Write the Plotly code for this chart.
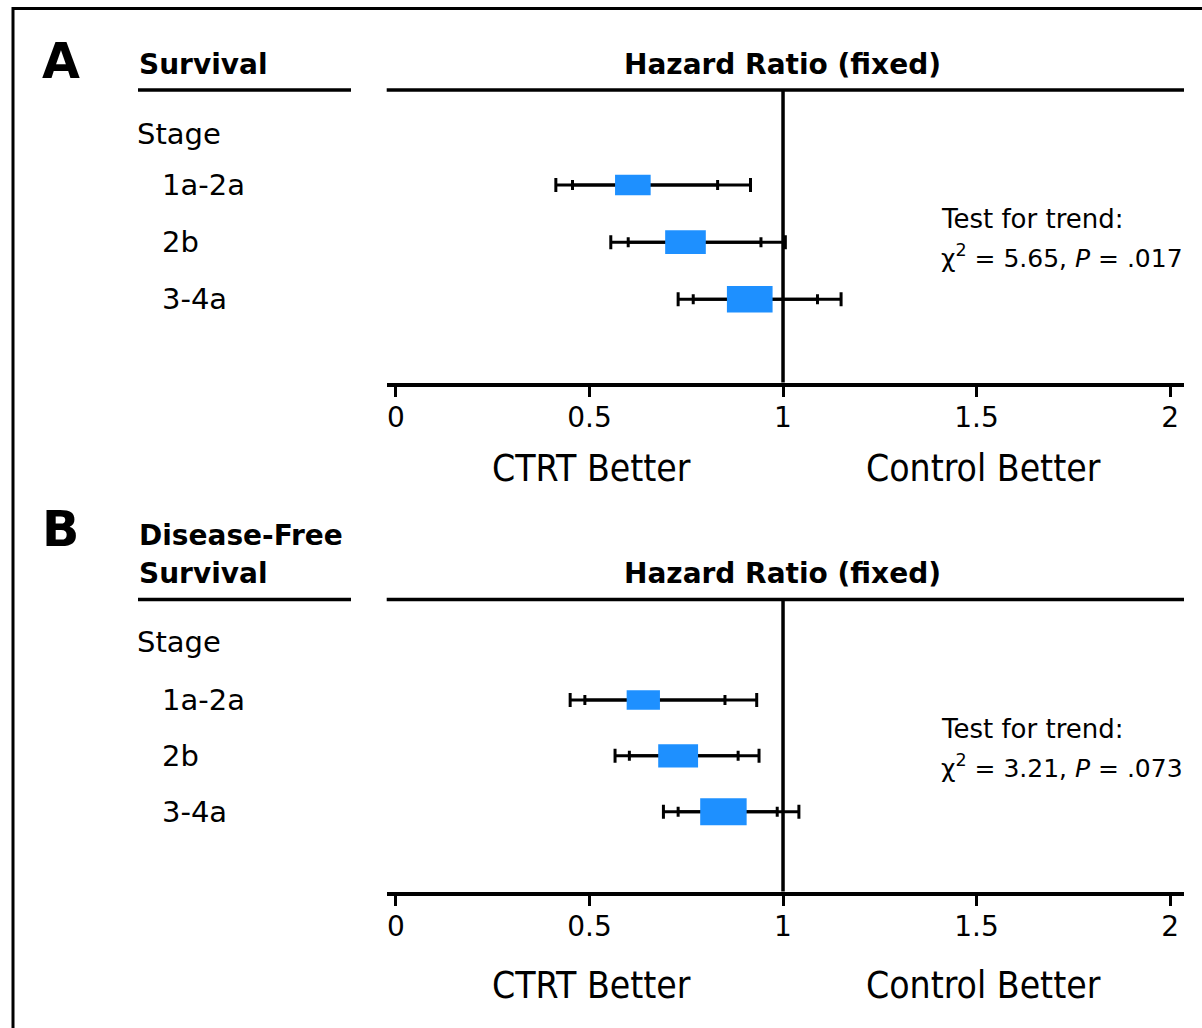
import plotly.graph_objects as go

W, H = 1202, 1028

# ---------------- data ----------------
stage_labels = ["1a-2a", "2b", "3-4a"]
tick_vals = [0, 0.5, 1, 1.5, 2]
tick_text = ["0", "0.5", "1", "1.5", "2"]

# Panel A: overall survival (hazard ratio, 95% and 99% CI, box size = weight)
os_hr = [0.612, 0.748, 0.914]
os_lo95 = [0.456, 0.600, 0.768]
os_hi95 = [0.831, 0.943, 1.089]
os_lo99 = [0.413, 0.555, 0.729]
os_hi99 = [0.916, 1.006, 1.150]
os_weight = [0.092, 0.105, 0.118]
os_trend = "χ<sup>2</sup> = 5.65, <i>P</i> = .017"

# Panel B: disease-free survival
dfs_hr = [0.639, 0.729, 0.846]
dfs_lo95 = [0.488, 0.603, 0.729]
dfs_hi95 = [0.850, 0.884, 0.985]
dfs_lo99 = [0.450, 0.566, 0.691]
dfs_hi99 = [0.932, 0.938, 1.041]
dfs_weight = [0.086, 0.103, 0.120]
dfs_trend = "χ<sup>2</sup> = 3.21, <i>P</i> = .073"

# ---------------- style ----------------
BLUE = "#1e90ff"
REG = "DejaVu Sans, Verdana, Arial, sans-serif"
COND = "DejaVu Sans Condensed, Liberation Sans Narrow, Arial Narrow, DejaVu Sans, sans-serif"
BOX_ASPECT = 0.58  # box height / box width in pixels

X_LEFT_PX, X_RIGHT_PX = 386.7, 1184.0
X_RANGE = [-0.024, 2.036]
px_per_x = (X_RIGHT_PX - X_LEFT_PX) / (X_RANGE[1] - X_RANGE[0])


def px(xp):
    return xp / W


def py(yp):
    return 1 - yp / H


fig = go.Figure()
shapes = []
annotations = []

panels = [
    dict(letter="A", title=["Survival"], hr=os_hr, lo95=os_lo95, hi95=os_hi95,
         lo99=os_lo99, hi99=os_hi99, w=os_weight, trend=os_trend,
         top=90.0, bottom=382.5, row1=185.0, row_gap=57.15,
         letter_y=61, title_y=[64.5], stage_y=134.5, trend_y=(219, 256),
         better_y=469, xa="x", ya="y"),
    dict(letter="B", title=["Disease-Free", "Survival"], hr=dfs_hr, lo95=dfs_lo95,
         hi95=dfs_hi95, lo99=dfs_lo99, hi99=dfs_hi99, w=dfs_weight, trend=dfs_trend,
         top=599.5, bottom=891.5, row1=700.0, row_gap=55.85,
         letter_y=529.5, title_y=[535, 573.5], stage_y=641.5, trend_y=(729, 766),
         better_y=985, xa="x2", ya="y2"),
]

layout_axes = {}
for i, p in enumerate(panels):
    rows = [1, 2, 3]
    y_top = 1 + (p["top"] - p["row1"]) / p["row_gap"]
    y_bot = 1 + (p["bottom"] - p["row1"]) / p["row_gap"]
    px_per_y = p["row_gap"]
    xa, ya = p["xa"], p["ya"]
    xname = "xaxis" if xa == "x" else "xaxis2"
    yname = "yaxis" if ya == "y" else "yaxis2"
    layout_axes[xname] = dict(
        domain=[px(X_LEFT_PX), px(X_RIGHT_PX)], range=X_RANGE, anchor=ya,
        showline=True, linewidth=3.5, linecolor="black", ticks="outside",
        ticklen=11, tickwidth=3, tickcolor="black", tickvals=tick_vals,
        ticktext=tick_text, tickfont=dict(family=REG, size=28, color="black"),
        ticklabelstandoff=-4,
        showgrid=False, zeroline=False, fixedrange=True,
    )
    layout_axes[yname] = dict(
        domain=[py(p["bottom"]), py(p["top"])], range=[y_bot, y_top], anchor=xa,
        visible=False, showgrid=False, zeroline=False, fixedrange=True,
    )

    # 99% CI (outer caps)
    fig.add_trace(go.Scatter(
        x=p["hr"], y=rows, mode="markers", xaxis=xa, yaxis=ya,
        marker=dict(size=1, color="rgba(0,0,0,0)"), showlegend=False, hoverinfo="skip",
        error_x=dict(type="data", symmetric=False,
                     array=[h - m for h, m in zip(p["hi99"], p["hr"])],
                     arrayminus=[m - l for l, m in zip(p["lo99"], p["hr"])],
                     color="black", thickness=3, width=7),
    ))
    # 95% CI (inner ticks)
    fig.add_trace(go.Scatter(
        x=p["hr"], y=rows, mode="markers", xaxis=xa, yaxis=ya,
        marker=dict(size=1, color="rgba(0,0,0,0)"), showlegend=False, hoverinfo="skip",
        error_x=dict(type="data", symmetric=False,
                     array=[h - m for h, m in zip(p["hi95"], p["hr"])],
                     arrayminus=[m - l for l, m in zip(p["lo95"], p["hr"])],
                     color="black", thickness=3, width=5),
    ))
    # boxes
    for r, m, w in zip(rows, p["hr"], p["w"]):
        h = w * px_per_x * BOX_ASPECT / px_per_y
        fig.add_trace(go.Scatter(
            x=[m - w / 2, m + w / 2, m + w / 2, m - w / 2, m - w / 2],
            y=[r - h / 2, r - h / 2, r + h / 2, r + h / 2, r - h / 2],
            mode="lines", fill="toself", fillcolor=BLUE, line=dict(width=0, color=BLUE),
            xaxis=xa, yaxis=ya, showlegend=False, hoverinfo="skip",
        ))

    # line of no effect
    shapes.append(dict(type="line", xref=xa, yref=f"{ya} domain", x0=1, x1=1, y0=0, y1=1,
                       line=dict(color="black", width=3.5)))
    # header rules
    shapes.append(dict(type="line", xref=f"{xa} domain", yref=f"{ya} domain", x0=0, x1=1,
                       y0=1, y1=1, line=dict(color="black", width=3.5)))
    shapes.append(dict(type="line", xref="paper", yref=f"{ya} domain", x0=px(138), x1=px(351),
                       y0=1, y1=1, line=dict(color="black", width=3.5)))

    # texts
    annotations.append(dict(text=f"<b>{p['letter']}</b>", x=px(61), y=py(p["letter_y"]),
                            xanchor="center", yanchor="middle",
                            font=dict(family=REG, size=49, color="black")))
    for t, ty in zip(p["title"], p["title_y"]):
        annotations.append(dict(text=f"<b>{t}</b>", x=px(137), y=py(ty), xanchor="left",
                                yanchor="middle", font=dict(family=REG, size=28, color="black")))
    annotations.append(dict(text="<b>Hazard Ratio (fixed)</b>", x=px(782.5),
                            y=py(p["title_y"][-1]), xanchor="center", yanchor="middle",
                            font=dict(family=REG, size=28, color="black")))
    annotations.append(dict(text="Stage", x=px(135), y=py(p["stage_y"]), xanchor="left",
                            yanchor="middle", font=dict(family=REG, size=29, color="black")))
    for r, lab in zip(rows, stage_labels):
        annotations.append(dict(text=lab, x=px(160), xref="paper", y=r, yref=ya,
                                xanchor="left", yanchor="middle",
                                font=dict(family=REG, size=29, color="black")))
    annotations.append(dict(text="Test for trend:", x=px(939), y=py(p["trend_y"][0]),
                            xanchor="left", yanchor="middle",
                            font=dict(family=REG, size=26, color="black")))
    annotations.append(dict(text=p["trend"], x=px(939), y=py(p["trend_y"][1]),
                            xanchor="left", yanchor="middle",
                            font=dict(family=REG, size=25, color="black")))
    annotations.append(dict(text="CTRT Better", x=px(591), y=py(p["better_y"]),
                            xanchor="center", yanchor="middle",
                            font=dict(family=COND, size=37, color="black")))
    annotations.append(dict(text="Control Better", x=px(983), y=py(p["better_y"]),
                            xanchor="center", yanchor="middle",
                            font=dict(family=COND, size=37, color="black")))

for a in annotations:
    a.setdefault("xref", "paper")
    a.setdefault("yref", "paper")
    a["showarrow"] = False

# outer frame (only left and top edges are inside the image)
shapes.append(dict(type="rect", xref="paper", yref="paper", x0=px(13), x1=1.05,
                   y0=-0.05, y1=py(8.5), line=dict(color="black", width=3),
                   fillcolor="rgba(0,0,0,0)"))

fig.update_layout(
    width=W, height=H, margin=dict(l=0, r=0, t=0, b=0),
    paper_bgcolor="white", plot_bgcolor="white",
    shapes=shapes, annotations=annotations, showlegend=False,
    **layout_axes,
)

fig.write_html("out.html", post_script="document.body.style.margin='0';",
               config={"displayModeBar": False})
